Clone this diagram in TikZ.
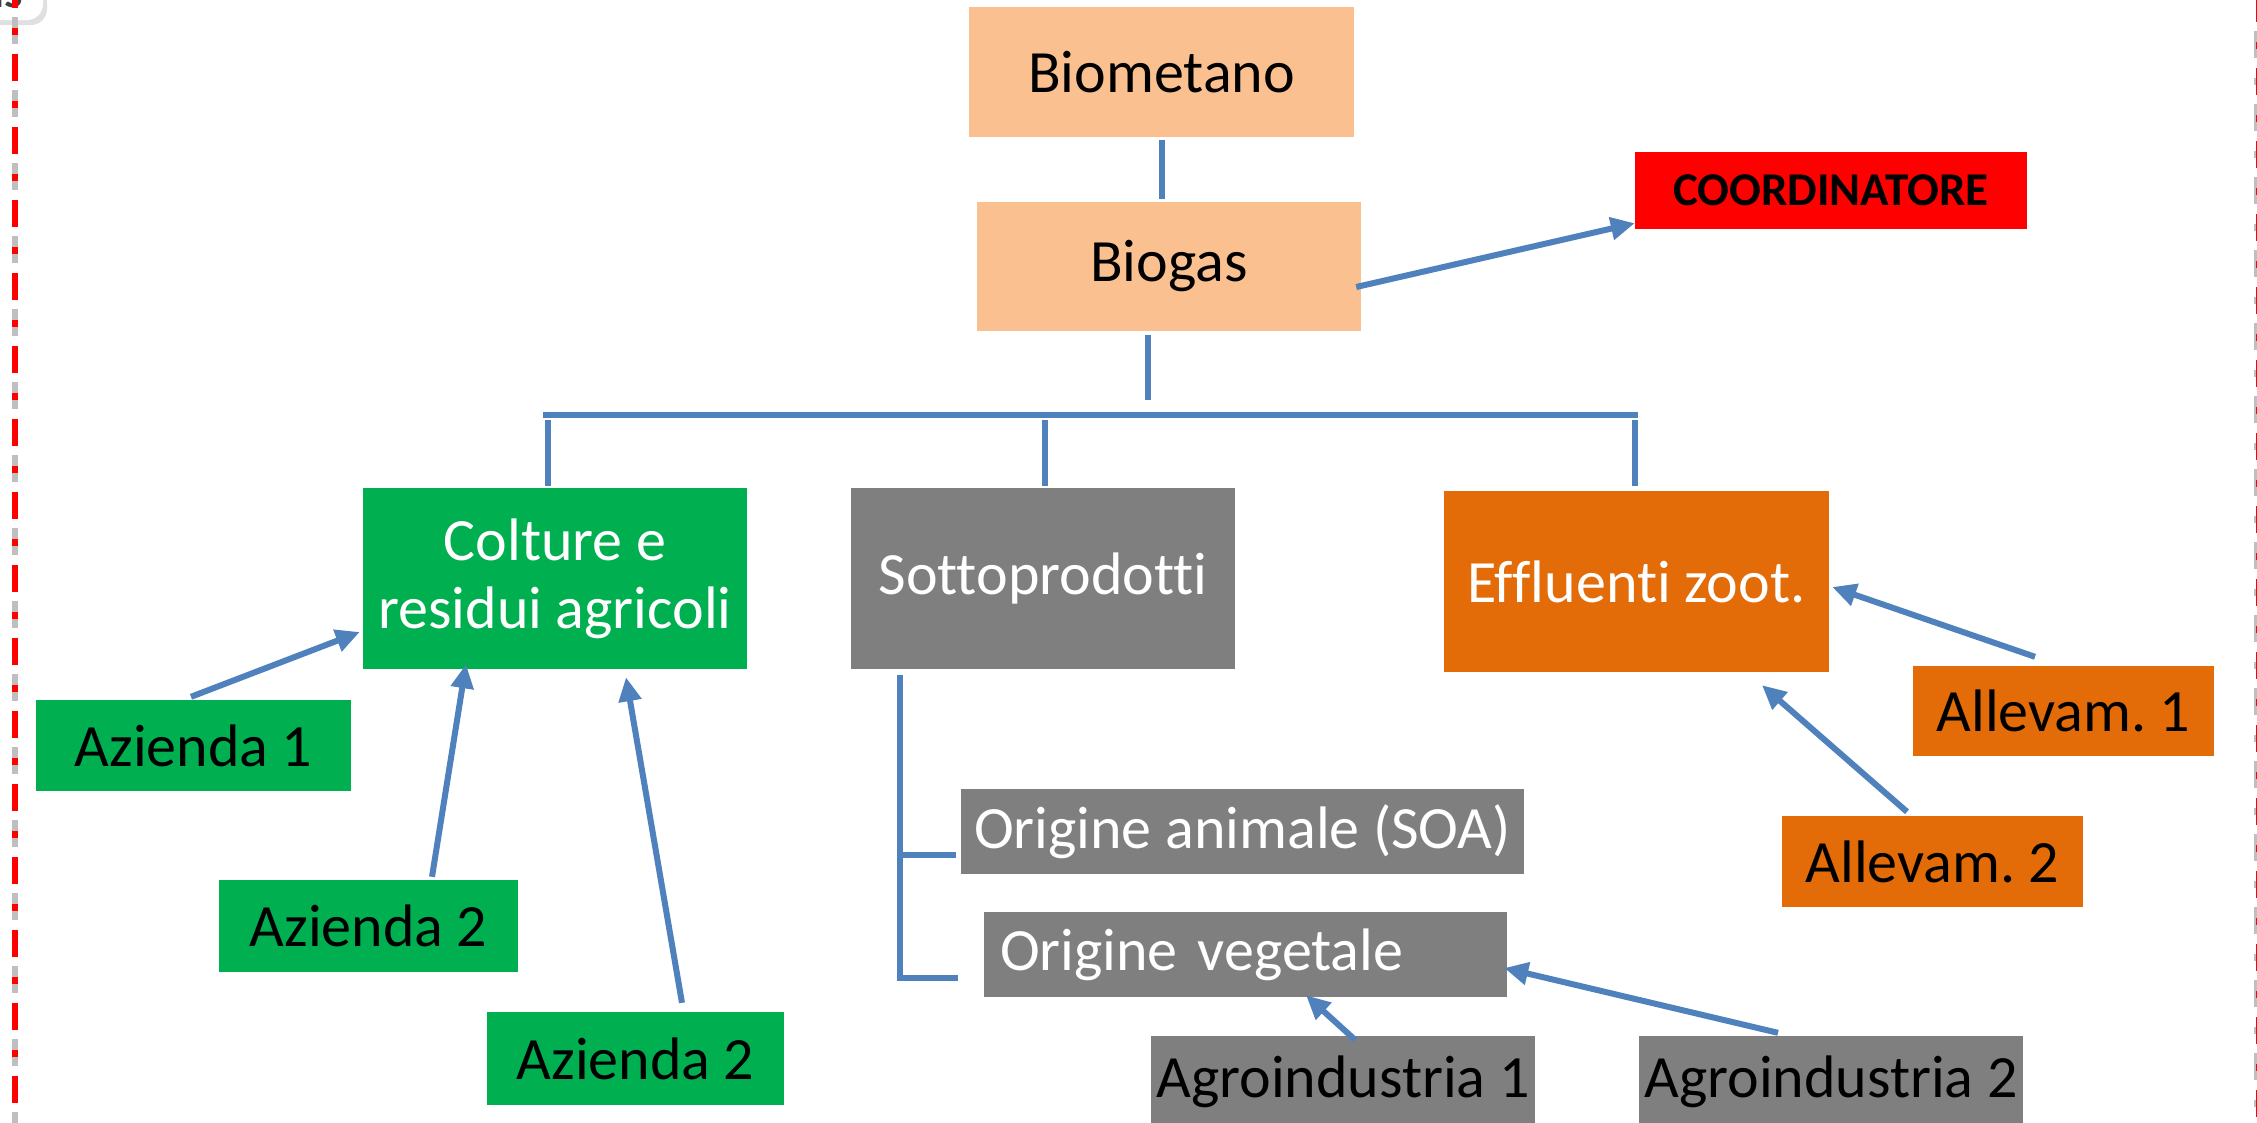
\documentclass[tikz,border=0pt]{standalone}
\usepackage{fontspec}
\setmainfont{Carlito}[Ligatures=CommonOff]
\frenchspacing
\usetikzlibrary{arrows.meta,calc}
\definecolor{peach}{HTML}{FAC090}
\definecolor{vgreen}{HTML}{00B050}
\definecolor{vgrey}{HTML}{7F7F7F}
\definecolor{vorange}{HTML}{E36C09}
\definecolor{conblue}{HTML}{4F81BD}
\definecolor{tabtext}{HTML}{3F3F3F}
\tikzset{
  box/.style={rectangle, draw=none, inner sep=0pt, align=center, font=\fontsize{60}{68}\selectfont},
  conn/.style={draw=conblue, line width=6pt},
  arr/.style={draw=conblue, line width=6pt, -{Triangle[length=24pt,width=22pt]}},
  reddash/.style={draw=red, line width=6pt, dash pattern=on 27pt off 20pt on 7pt off 19pt},
  shadowdash/.style={draw=black!25, line width=6pt, dash pattern=on 27pt off 20pt on 7pt off 19pt}
}
\begin{document}
\begin{tikzpicture}[x=1pt,y=-1pt]
\useasboundingbox (0,0) rectangle (2257,1122);
\clip (0,0) rectangle (2257,1122);
\fill[white] (0,0) rectangle (2257,1122);

% top-left tab
\fill[black!12, rounded corners=16pt] (-60,-60) rectangle (47,25);
\fill[white, rounded corners=16pt] (-60,-60) rectangle (43,20);
\node[font=\fontsize{46}{46}\selectfont\bfseries, text=tabtext, anchor=base east, inner sep=0pt] (tab) at (23,7) {as};

% red dash-dot border lines
\coordinate (lt) at (15,-19);
\coordinate (lb) at (15,1200);
\coordinate (rt) at (2259,-5);
\coordinate (rb) at (2259,1200);
\draw[shadowdash] ($(lt)+(0,36)$) -- ($(lb)+(0,36)$);
\draw[reddash] (lt) -- (lb);
\draw[shadowdash] ($(rt)+(-2,36)$) -- ($(rb)+(-2,36)$);
\draw[reddash] (rt) -- (rb);

% nodes
\node[box, fill=peach, minimum width=385pt, minimum height=130pt] (bm) at (1161.5,72) {Biometano};
\node[box, fill=peach, minimum width=384pt, minimum height=129pt] (bg) at (1169,266.5) {Biogas};
\node[box, fill=red, minimum width=392pt, minimum height=77pt, font=\fontsize{47}{50}\selectfont\bfseries] (coord) at (1831,190.5) {COORDINATORE};

\node[box, fill=vgreen, text=white, minimum width=384pt, minimum height=181pt] (colt) at (555,578.5) {Colture e\\residui agricoli};
\node[box, fill=vgrey, text=white, minimum width=384pt, minimum height=181pt] (sott) at (1043,578.5) {Sottoprodotti};
\node[box, fill=vorange, text=white, minimum width=385pt, minimum height=181pt] (eff) at (1636.5,581.5) {Effluenti zoot.};

\node[box, fill=vgreen, minimum width=315pt, minimum height=91pt] (az1) at (193.5,745.5) {Azienda 1};
\node[box, fill=vgreen, minimum width=299pt, minimum height=92pt] (az2a) at (368.5,926) {Azienda 2};
\node[box, fill=vgreen, minimum width=297pt, minimum height=93pt] (az2b) at (635.5,1058.5) {Azienda 2};

\node[box, fill=vgrey, text=white, minimum width=563pt, minimum height=85pt] (soa) at (1242.5,831.5) {Origine animale (SOA)};
\node[box, fill=vgrey, text=white, minimum height=85pt, text width=491pt, inner xsep=16pt, align=left] (veg) at (1245.5,954.5) {Origine vegetale};
\node[box, fill=vgrey, minimum width=384pt, minimum height=91pt] (agro1) at (1343,1081.5) {Agroindustria 1};
\node[box, fill=vgrey, minimum width=384pt, minimum height=91pt] (agro2) at (1831,1081.5) {Agroindustria 2};

\node[box, fill=vorange, minimum width=301pt, minimum height=90pt] (all1) at (2063.5,711) {Allevam. 1};
\node[box, fill=vorange, minimum width=301pt, minimum height=91pt] (all2) at (1932.5,861.5) {Allevam. 2};

% tree connectors
\draw[conn] ($(bm.south)+(0,3)$) -- ($(bm.south |- bg.north)+(0,-3)$);
\coordinate (bgdown) at (1148,335);
\draw[conn] (bgdown) -- ++(0,65);
\coordinate (busL) at (543,415);
\coordinate (busR) at (1638,415);
\draw[conn] (busL) -- (busR);
\coordinate (d1) at (548,420);
\coordinate (d2) at (1045,420);
\coordinate (d3) at (1635,420);
\draw[conn] (d1) -- ($(d1 |- colt.north)+(0,-2)$);
\draw[conn] (d2) -- ($(d2 |- sott.north)+(0,-2)$);
\draw[conn] (d3) -- ($(d3 |- eff.north)+(0,-5)$);

% bracket under Sottoprodotti
\coordinate (brTop) at (900,675);
\coordinate (brMid) at (900,855);
\coordinate (brBot) at (900,978);
\draw[conn] (brTop) -- (brBot) -- ($(veg.west |- brBot)+(-26,0)$);
\draw[conn] (brMid) -- ($(soa.west |- brMid)+(-5,0)$);

% arrows
\draw[arr] ($(bg.east)+(-5,20.5)$) -- ($(coord.south west)+(0,-6)$);
\draw[arr] ($(az1.north)+(-2.5,-3)$) -- ($(colt.west)+(-3,53.5)$);
\draw[arr] ($(az2a.north)+(63.5,-3)$) -- ($(colt.south)+(-89,-5)$);
\draw[arr] ($(az2b.north)+(46.5,-9)$) -- ($(colt.south)+(71,8)$);
\draw[arr] ($(all1.north)+(-28.5,-9)$) -- ($(eff.east)+(3,5.5)$);
\draw[arr] ($(all2.north)+(-25.5,-4)$) -- ($(eff.south)+(125.5,13)$);
\draw[arr] ($(agro1.north)+(12,4)$) -- ($(veg.south)+(60.5,-2)$);
\draw[arr] ($(agro2.north)+(-53,-3)$) -- ($(veg.east)+(-3,13.5)$);
\end{tikzpicture}
\end{document}
